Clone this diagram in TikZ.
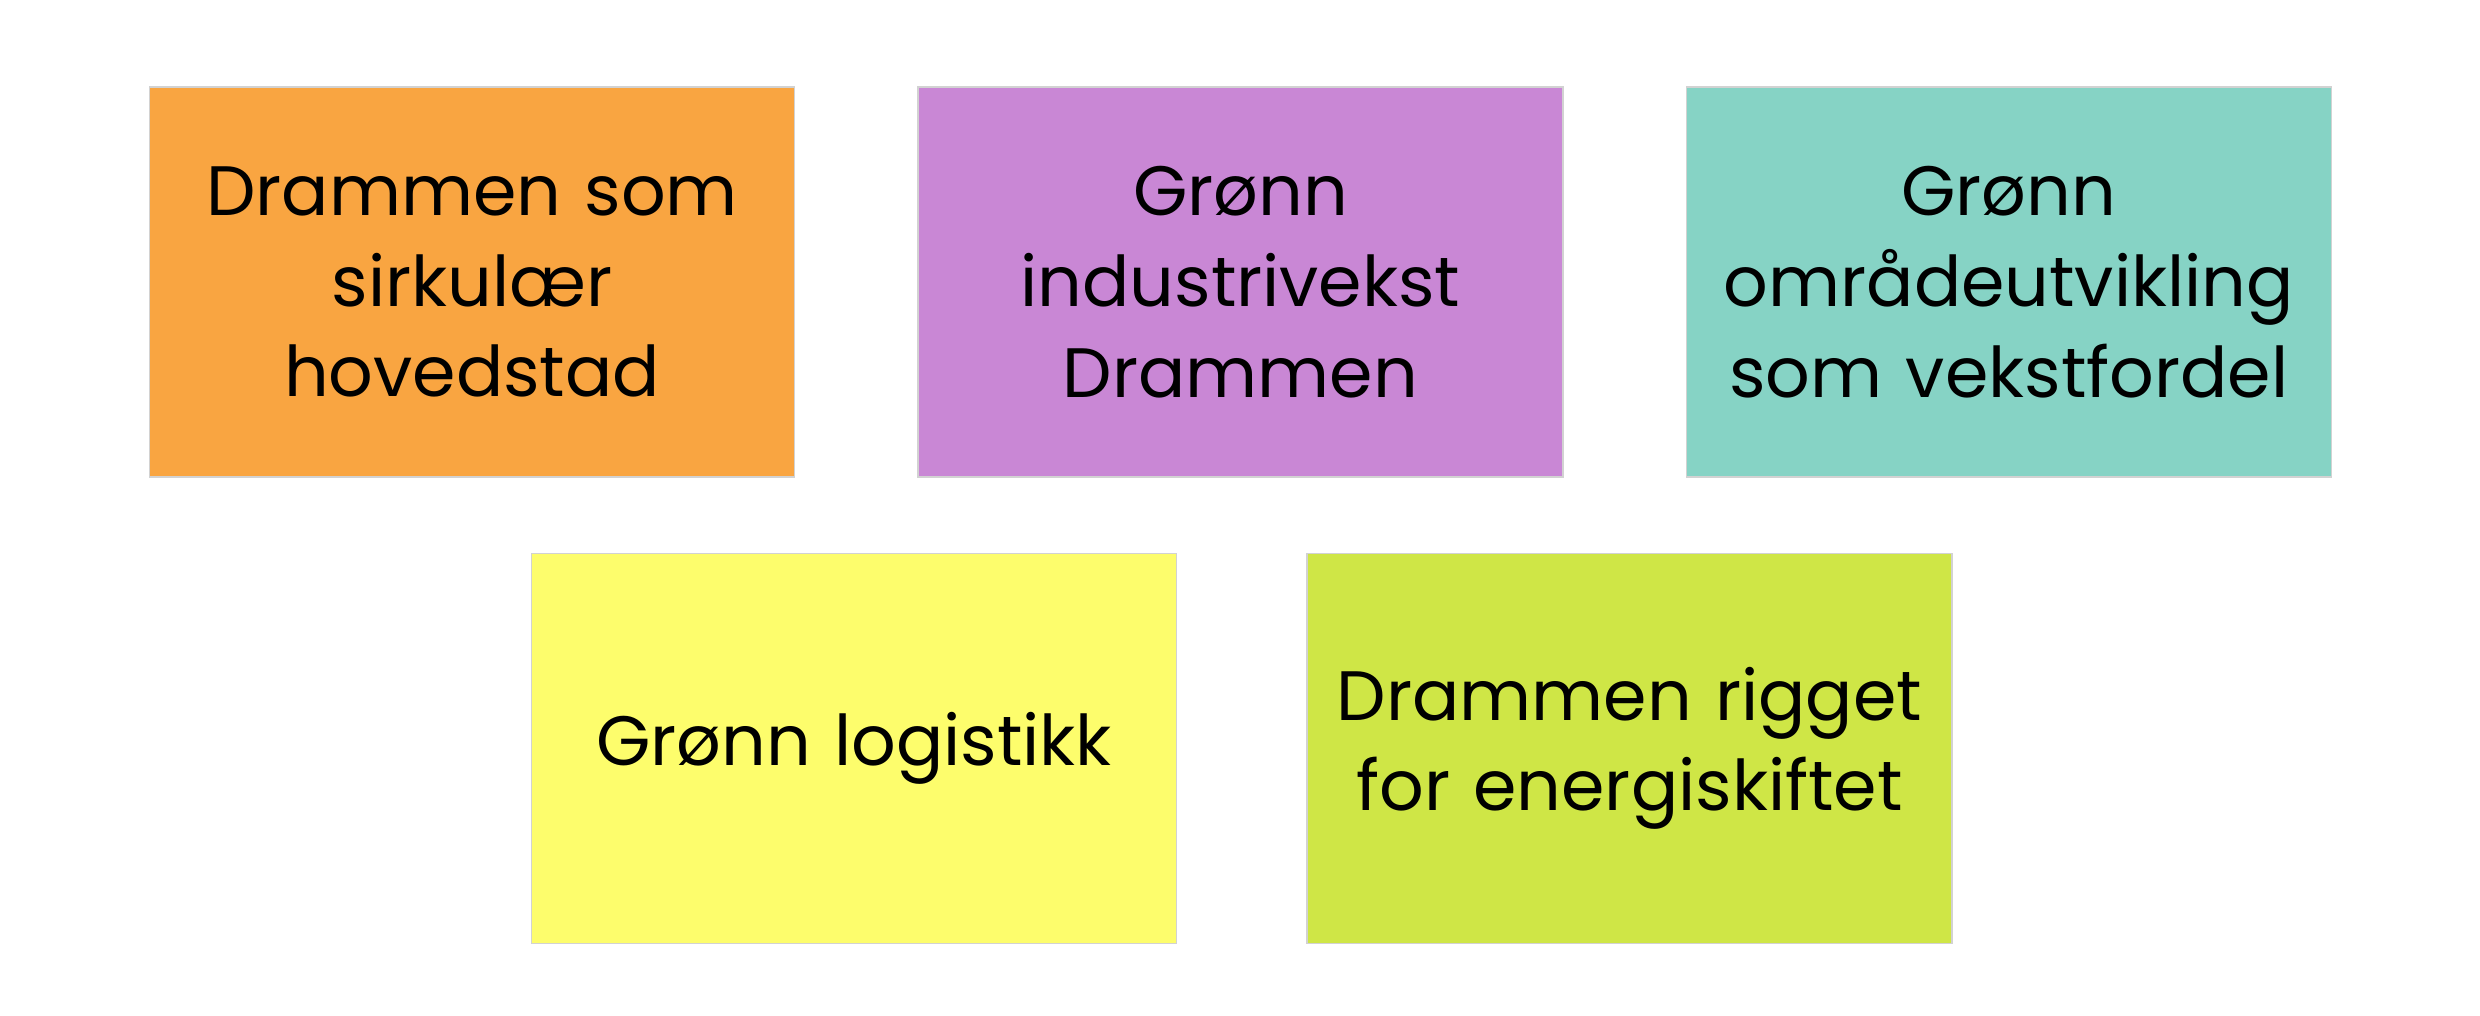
\documentclass[tikz,border=0pt]{standalone}
\usepackage{fontspec}
\setmainfont{Poppins}
\usetikzlibrary{positioning}

\definecolor{orangeboks}{HTML}{F9A541}
\definecolor{lillaboks}{HTML}{C987D5}
\definecolor{turkisboks}{HTML}{86D3C5}
\definecolor{gulboks}{HTML}{FDFD6C}
\definecolor{limeboks}{HTML}{CFE646}

\begin{document}
\begin{tikzpicture}[
  lapp/.style={draw=gray!35, line width=0.4pt, minimum width=6.45cm,
    minimum height=3.9cm, text width=6.35cm, align=center,
    font=\fontsize{19.9}{25.8}\selectfont, inner sep=0pt}
]
\useasboundingbox (0,0) rectangle (24.8,10.15);
%upper row
\node[lapp, fill=orangeboks] (sirkular) at (4.72,7.33)
  {Drammen som\\sirkulær\\hovedstad};
\node[lapp, fill=lillaboks, right=1.22cm of sirkular] (industri)
  {Grønn\\industrivekst\\Drammen};
\node[lapp, fill=turkisboks, right=1.22cm of industri] (omrade)
  {Grønn\\områdeutvikling\\som vekstfordel};
%lower row
\node[lapp, fill=gulboks, below=0.75cm of sirkular, xshift=3.82cm] (logistikk)
  {Grønn logistikk};
\node[lapp, fill=limeboks, right=1.29cm of logistikk] (energi)
  {Drammen rigget\\for energiskiftet};
\end{tikzpicture}
\end{document}
